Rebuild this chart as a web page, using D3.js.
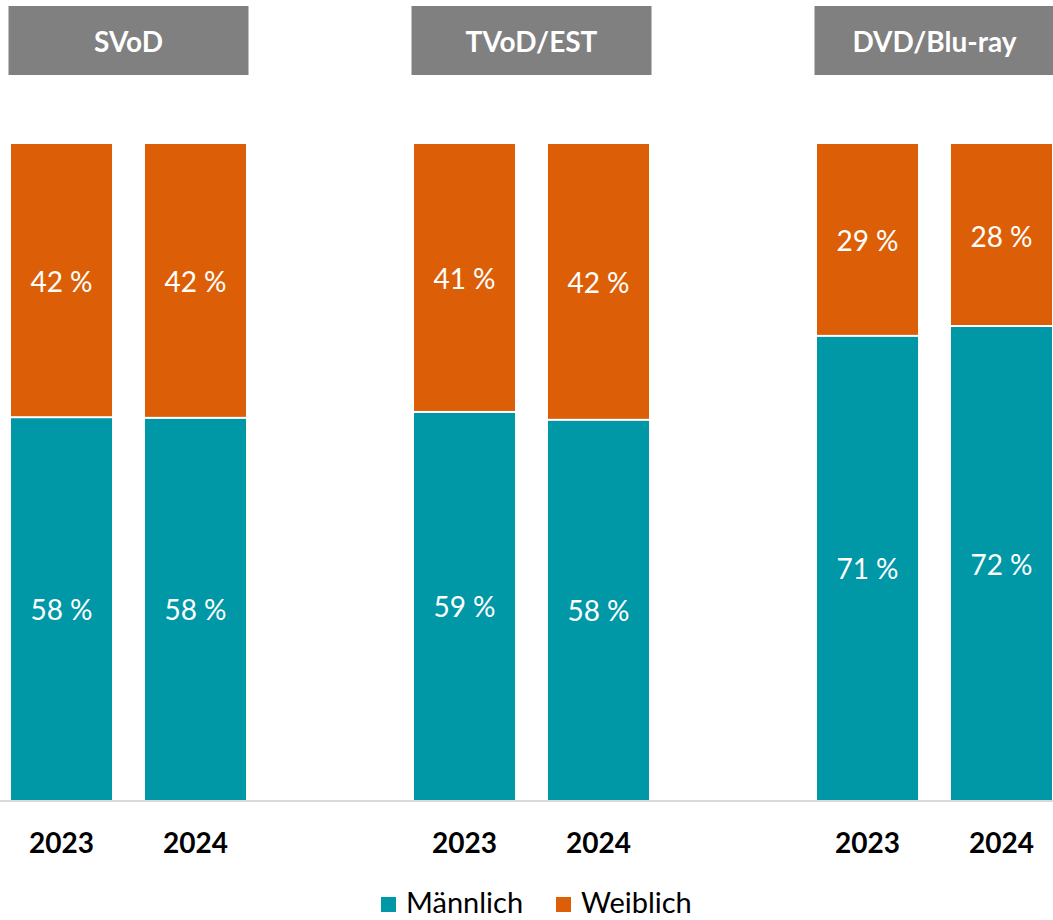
<!DOCTYPE html>
<meta charset="utf-8">
<head>
    <title>Männlich / Weiblich nach Format</title>
    <script src="https://d3js.org/d3.v7.min.js"></script>
    <style>
        body { margin: 0; background: #fff; }
        text { font-family: Lato, "Open Sans", sans-serif; }
    </style>
</head>
<body>
<script>
    // data
    var groups = ["SVoD", "TVoD/EST", "DVD/Blu-ray"];
    var years = ["2023", "2024"];
    var maennlich = [[58.2, 58.1], [59.0, 57.8], [70.6, 72.1]];
    var weiblich = [[41.8, 41.9], [41.0, 42.2], [29.4, 27.9]];
    var labelsM = [["58 %", "58 %"], ["59 %", "58 %"], ["71 %", "72 %"]];
    var labelsW = [["42 %", "42 %"], ["41 %", "42 %"], ["29 %", "28 %"]];
    var seriesNames = ["Männlich", "Weiblich"];
    var colors = ["#0097a7", "#dc5f08"];

    var width = 1053, height = 920;

    var svg = d3.select("body").append("svg")
        .attr("width", width)
        .attr("height", height);

    // scales
    var x0 = d3.scalePoint().domain(groups).range([128.5, 934.5]);
    var x1 = d3.scaleBand().domain(years).range([-117.5, 117.5]).paddingInner(0.246).paddingOuter(0);
    var y = d3.scaleLinear().domain([0, 100]).range([800, 144]);

    // flatten into rows
    var rows = [];
    groups.forEach(function (g, gi) {
        years.forEach(function (yr, yi) {
            rows.push({ group: g, year: yr, m: maennlich[gi][yi], w: weiblich[gi][yi],
                lm: labelsM[gi][yi], lw: labelsW[gi][yi] });
        });
    });

    // header boxes
    var head = svg.append("g").selectAll("g").data(groups).enter().append("g")
        .attr("transform", function (d) { return "translate(" + x0(d) + ",0)"; });
    head.append("rect")
        .attr("x", -120).attr("y", 6)
        .attr("width", 240).attr("height", 69)
        .attr("fill", "#808080");
    head.append("text")
        .attr("y", 41)
        .attr("text-anchor", "middle")
        .attr("dominant-baseline", "central")
        .attr("fill", "#fff")
        .style("font-size", "28px")
        .style("font-weight", "bold")
        .text(function (d) { return d; });

    // axis line
    svg.append("line")
        .attr("x1", 0).attr("x2", width)
        .attr("y1", y(0) + 1).attr("y2", y(0) + 1)
        .attr("stroke", "#d9d9d9").attr("stroke-width", 2);

    var bar = svg.append("g").selectAll("g").data(rows).enter().append("g")
        .attr("transform", function (d) { return "translate(" + (x0(d.group) + x1(d.year)) + ",0)"; });

    bar.append("rect")
        .attr("y", function (d) { return y(d.m); })
        .attr("width", x1.bandwidth())
        .attr("height", function (d) { return y(0) - y(d.m); })
        .attr("fill", colors[0]);
    bar.append("rect")
        .attr("y", function (d) { return y(d.m + d.w); })
        .attr("width", x1.bandwidth())
        .attr("height", function (d) { return y(d.m) - y(d.m + d.w) - 2; })
        .attr("fill", colors[1]);

    bar.append("text")
        .attr("x", x1.bandwidth() / 2)
        .attr("y", function (d) { return (y(0) + y(d.m)) / 2; })
        .attr("text-anchor", "middle")
        .attr("dominant-baseline", "central")
        .attr("fill", "#fff")
        .style("font-size", "28px")
        .text(function (d) { return d.lm; });
    bar.append("text")
        .attr("x", x1.bandwidth() / 2)
        .attr("y", function (d) { return (y(d.m) + y(d.m + d.w)) / 2; })
        .attr("text-anchor", "middle")
        .attr("dominant-baseline", "central")
        .attr("fill", "#fff")
        .style("font-size", "28px")
        .text(function (d) { return d.lw; });

    // year labels
    bar.append("text")
        .attr("x", x1.bandwidth() / 2)
        .attr("y", 842)
        .attr("text-anchor", "middle")
        .attr("dominant-baseline", "central")
        .attr("fill", "#000")
        .style("font-size", "28px")
        .style("font-weight", "bold")
        .text(function (d) { return d.year; });

    // legend
    var legend = svg.append("g");
    var lx = [381, 556];
    seriesNames.forEach(function (s, i) {
        legend.append("rect")
            .attr("x", lx[i]).attr("y", 897)
            .attr("width", 15).attr("height", 15)
            .attr("fill", colors[i]);
        legend.append("text")
            .attr("x", lx[i] + 25).attr("y", 913)
            .attr("fill", "#000")
            .style("font-size", "29px")
            .text(s);
    });
</script>
</body>
</html>
